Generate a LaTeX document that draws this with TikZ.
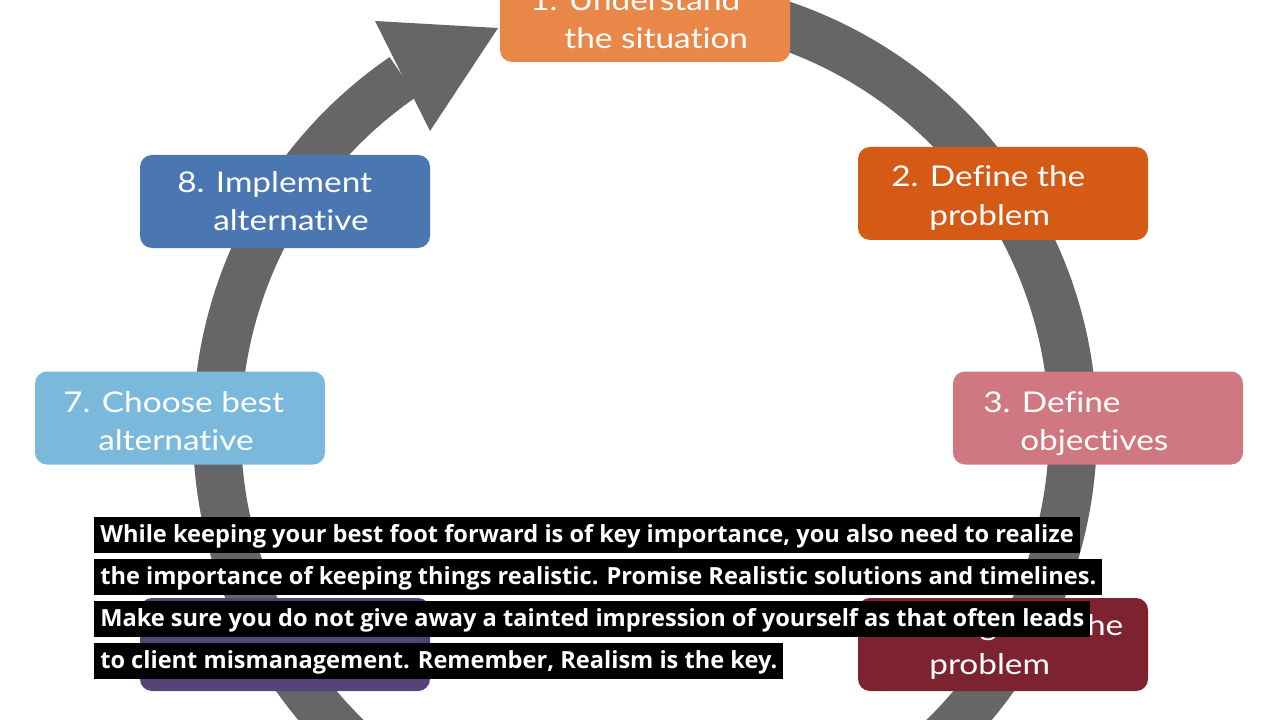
\documentclass[tikz,border=0pt]{standalone}
\usepackage{fontspec}
\setmainfont{Lato}
\newfontfamily\boxfont[FakeStretch=1.17, Ligatures=NoCommon]{Lato}
\newfontfamily\capfont{Open Sans}
\definecolor{ringgray}{RGB}{102,102,102}
\definecolor{cone}{RGB}{232,135,72}
\definecolor{ctwo}{RGB}{212,90,22}
\definecolor{cthree}{RGB}{208,120,130}
\definecolor{cfour}{RGB}{125,35,48}
\definecolor{csix}{RGB}{84,68,120}
\definecolor{cseven}{RGB}{122,185,220}
\definecolor{ceight}{RGB}{74,118,178}
\tikzset{
  ringline/.style={draw=ringgray, line width=36pt},
  headfill/.style={fill=ringgray},
  stepbox/.style={rounded corners=9pt, draw=none, inner sep=0pt,
    minimum width=217.5pt, minimum height=69.75pt},
  steptext/.style={anchor=base west, inner sep=0pt, text=white,
    font=\boxfont\fontsize{21.4}{25}\selectfont},
  capbar/.style={anchor=base west, fill=black, text=white,
    font=\capfont\bfseries\fontsize{17.7}{20}\selectfont,
    inner xsep=4.5pt, inner ysep=0pt, text height=18.75pt, text depth=8.25pt}
}
\begin{document}
\begin{tikzpicture}[x=0.75pt,y=-0.75pt]
\useasboundingbox (0,0) rectangle (1280,720);
\fill[white] (0,0) rectangle (1280,720);
% ring with arrow
\coordinate (c) at (645,430);
\draw[ringline] (c) ++(-85:428) arc[start angle=-85, end angle=235.6, radius=428];
\coordinate (hw1) at (375,21);
\coordinate (htip) at (498,28);
\coordinate (hw2) at (430,131);
\fill[headfill] (hw1) -- (htip) -- (hw2) -- cycle;
% boxes
\node[stepbox, fill=cone] (b1) at (645,15.5) {};
\node[stepbox, fill=ctwo] (b2) at (1003,193.5) {};
\node[stepbox, fill=cthree] (b3) at (1098,418) {};
\node[stepbox, fill=cfour] (b4) at (1003,644.5) {};
\node[stepbox, fill=csix] (b6) at (285,644.5) {};
\node[stepbox, fill=cseven] (b7) at (180,418) {};
\node[stepbox, fill=ceight] (b8) at (285,201.5) {};
% box texts
\node[steptext] (t1a) at (530,11) {1. Understand};
\node[steptext] (t1b) at (564,49) {the situation};
\node[steptext] (t2a) at (891,187) {2. Define the};
\node[steptext] (t2b) at (929,226) {problem};
\node[steptext] (t3a) at (983,412) {3. Define};
\node[steptext] (t3b) at (1020,450) {objectives};
\node[steptext] (t4a) at (891,635) {4. Diagnose the};
\node[steptext] (t4b) at (929,674) {problem};
\node[steptext] (t7a) at (63,412) {7. Choose best};
\node[steptext] (t7b) at (98,450) {alternative};
\node[steptext] (t8a) at (177,193) {8. Implement};
\node[steptext] (t8b) at (213,231) {alternative};
% caption
\node[capbar] (cap1) at (94,542) {While keeping your best foot forward is of key importance, you also need to realize};
\node[capbar] (cap2) at (94,584) {the importance of keeping things realistic. Promise Realistic solutions and timelines.};
\node[capbar] (cap3) at (94,626) {Make sure you do not give away a tainted impression of yourself as that often leads};
\node[capbar] (cap4) at (94,668) {to client mismanagement. Remember, Realism is the key.};
\end{tikzpicture}
\end{document}
